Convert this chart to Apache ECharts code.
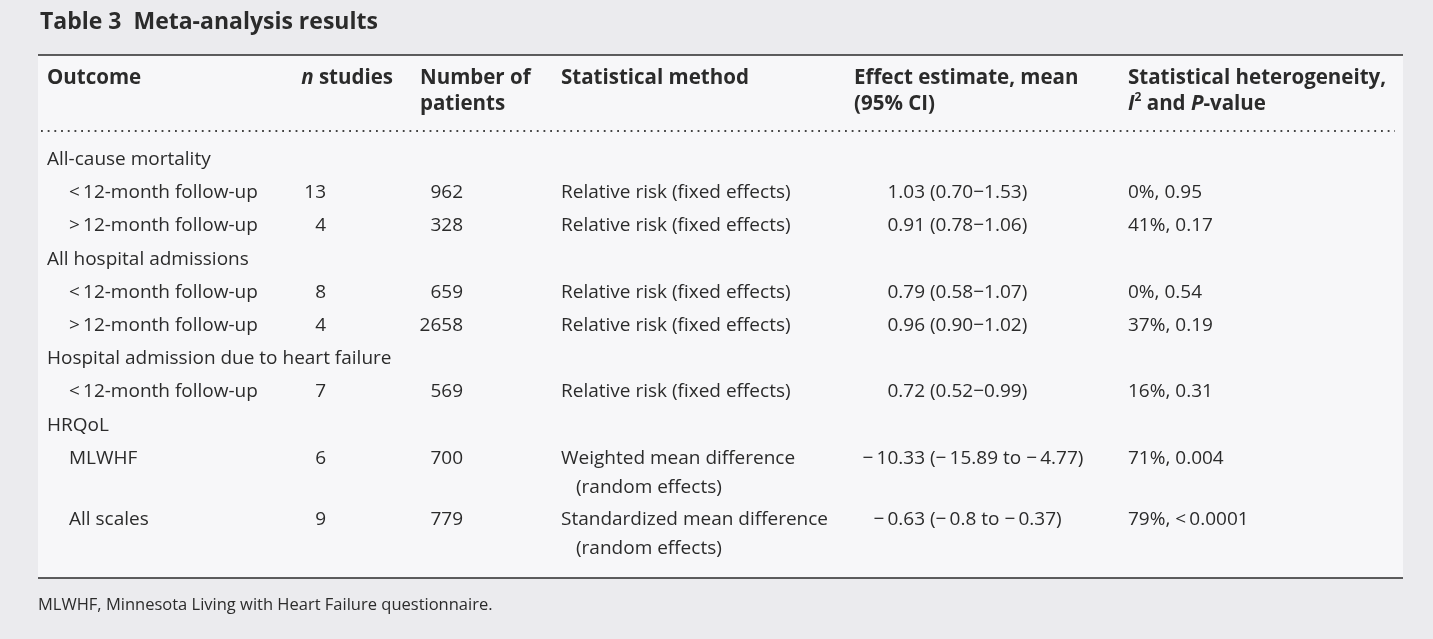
<!DOCTYPE html>
<html><head><meta charset="utf-8">
<script src="https://cdn.jsdelivr.net/npm/echarts@6/dist/echarts.min.js"></script>
<style>html,body{margin:0;padding:0;background:#ebebee}#c{width:1433px;height:639px}</style>
</head><body><div id="c"></div><script>
// ---- data ----
const tableTitle = 'Table 3  Meta-analysis results';
const headerLine1 = ['Outcome', '{i|n} studies', 'Number of', 'Statistical method', 'Effect estimate, mean', 'Statistical heterogeneity,'];
const headerLine2 = ['', '', 'patients', '', '(95% CI)', '{i|I}{s|2} and {i|P}-value'];
const outcomes = ['All-cause mortality', '<\u200912-month follow-up', '>\u200912-month follow-up',
  'All hospital admissions', '<\u200912-month follow-up', '>\u200912-month follow-up',
  'Hospital admission due to heart failure', '<\u200912-month follow-up',
  'HRQoL', 'MLWHF', 'All scales'];
const groupRow = [1, 0, 0, 1, 0, 0, 1, 0, 1, 0, 0];
const nStudies = ['', '13', '4', '', '8', '4', '', '7', '', '6', '9'];
const patients = ['', '962', '328', '', '659', '2658', '', '569', '', '700', '779'];
const methods = ['', 'Relative risk (fixed effects)', 'Relative risk (fixed effects)', '',
  'Relative risk (fixed effects)', 'Relative risk (fixed effects)', '',
  'Relative risk (fixed effects)', '',
  'Weighted mean difference\n(random effects)', 'Standardized mean difference\n(random effects)'];
const effects = ['', '1.03 (0.70\u22121.53)', '0.91 (0.78\u22121.06)', '',
  '0.79 (0.58\u22121.07)', '0.96 (0.90\u22121.02)', '', '0.72 (0.52\u22120.99)', '',
  '\u2212\u200910.33 (\u2212\u200915.89 to \u2212\u20094.77)', '\u2212\u20090.63 (\u2212\u20090.8 to \u2212\u20090.37)'];
const heterogeneity = ['', '0%, 0.95', '41%, 0.17', '', '0%, 0.54', '37%, 0.19', '', '16%, 0.31', '',
  '71%, 0.004', '79%, <\u20090.0001'];
const footnote = 'MLWHF, Minnesota Living with Heart Failure questionnaire.';

// ---- layout ----
const W = 1433, H = 639;
const FONT = '"Open Sans", Lato, sans-serif';
const TXT = '#2b2b2b';
const BODY = 19, HEAD = 20.5;
const ROW_H = 33.2, FIRST_Y = 159.5, SUB_LINE = 29;
const col = { group: 47, sub: 69, nRight: 326, patRight: 463, method: 561, methodIndent: 15,
  effMeanRight: 925, effCI: 930, het: 1128 };
const hdrX = [47, 393, 420, 561, 854, 1128];
const hdrAlign = ['left', 'right', 'left', 'left', 'left', 'left'];

const slots = [];
outcomes.forEach((_, i) => {
  if (i === 0) slots.push(0);
  else slots.push(slots[i - 1] + (methods[i - 1].indexOf('\n') >= 0 ? 1.84 : 1));
});
const yMin = -FIRST_Y / ROW_H, yMax = yMin + H / ROW_H;

const chart = echarts.init(document.getElementById('c'), null, { renderer: 'canvas' });

function t(x, y, text, align, extra) {
  return { type: 'text', x: x, y: y, style: Object.assign({ text: text, align: align || 'left',
    verticalAlign: 'middle', fontSize: BODY, fontFamily: FONT, fill: TXT }, extra || {}) };
}

const graphics = [
  { type: 'rect', z: 0, shape: { x: 38, y: 55, width: 1365, height: 523 }, style: { fill: '#f7f7f9' } },
  t(40, 22, tableTitle, 'left', { fontSize: 23, fontWeight: 'bold' }),
  { type: 'line', shape: { x1: 38, y1: 55, x2: 1403, y2: 55 }, style: { stroke: '#2a2a2a', lineWidth: 1.6 } },
  { type: 'line', shape: { x1: 41, y1: 131, x2: 1395, y2: 131 }, style: { stroke: '#444', lineWidth: 1.8, lineDash: [1.8, 4.9] } },
  { type: 'line', shape: { x1: 38, y1: 578, x2: 1403, y2: 578 }, style: { stroke: '#2a2a2a', lineWidth: 1.6 } },
  t(38, 605, footnote, 'left', { fontSize: 16.5 })
];
const hdrRich = {
  i: { fontStyle: 'italic', fontWeight: 'bold', fontSize: HEAD, fontFamily: FONT, fill: TXT },
  s: { fontWeight: 'bold', fontSize: 12, fontFamily: FONT, fill: TXT, verticalAlign: 'top' }
};
headerLine1.forEach((h, k) => {
  graphics.push(t(hdrX[k], 78.5, h, hdrAlign[k], { fontSize: HEAD, fontWeight: 'bold', rich: hdrRich, lineHeight: 25 }));
  if (headerLine2[k]) graphics.push(t(hdrX[k], 104.5, headerLine2[k], hdrAlign[k], { fontSize: HEAD, fontWeight: 'bold', rich: hdrRich, lineHeight: 25 }));
});

chart.setOption({
  animation: false,
  backgroundColor: '#ebebee',
  grid: { left: 0, right: 0, top: 0, bottom: 0 },
  xAxis: { type: 'value', min: 0, max: W, show: false },
  yAxis: { type: 'value', min: yMin, max: yMax, inverse: true, show: false },
  graphic: graphics,
  series: [{
    type: 'custom',
    z: 10,
    clip: false,
    encode: { x: 0, y: 1 },
    data: outcomes.map((_, i) => [i, slots[i]]),
    renderItem: function (params, api) {
      const i = api.value(0);
      const s = api.value(1);
      const X = (x) => api.coord([x, s])[0];
      const y = api.coord([0, s])[1];
      const kids = [];
      kids.push(t(X(groupRow[i] ? col.group : col.sub), y, outcomes[i], 'left'));
      if (nStudies[i]) kids.push(t(X(col.nRight), y, nStudies[i], 'right'));
      if (patients[i]) kids.push(t(X(col.patRight), y, patients[i], 'right'));
      if (methods[i]) methods[i].split('\n').forEach((line, k) => {
        kids.push(t(X(col.method) + (k ? col.methodIndent : 0), y + k * SUB_LINE, line, 'left'));
      });
      if (effects[i]) {
        const p = effects[i].indexOf(' (');
        kids.push(t(X(col.effMeanRight), y, effects[i].slice(0, p), 'right'));
        kids.push(t(X(col.effCI), y, effects[i].slice(p + 1), 'left'));
      }
      if (heterogeneity[i]) kids.push(t(X(col.het), y, heterogeneity[i], 'left'));
      return { type: 'group', children: kids };
    }
  }]
});
</script></body></html>
